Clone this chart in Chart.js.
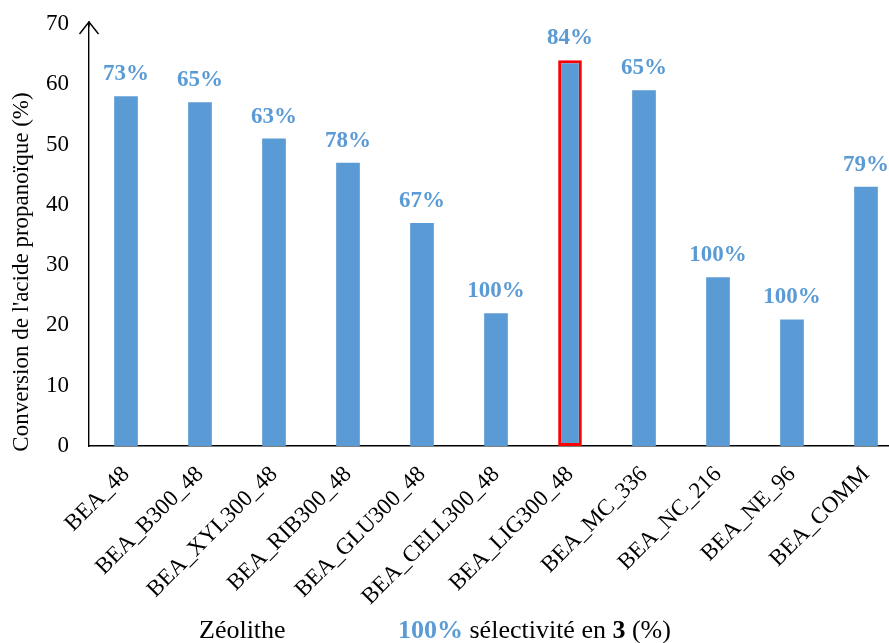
<!DOCTYPE html>
<html><head><meta charset="utf-8">
<script src="https://cdn.jsdelivr.net/npm/chart.js@4.4.1/dist/chart.umd.min.js"></script>
<style>html,body{margin:0;padding:0;background:#fff;overflow:hidden}#wrap{width:889px;height:643px;position:relative;overflow:hidden}</style>
</head><body><div id="wrap"><canvas id="c" width="903" height="643"></canvas></div>
<script>
const categories = ["BEA_48","BEA_B300_48","BEA_XYL300_48","BEA_RIB300_48","BEA_GLU300_48","BEA_CELL300_48","BEA_LIG300_48","BEA_MC_336","BEA_NC_216","BEA_NE_96","BEA_COMM"];
const conversion = [58,57,51,47,37,22,64,59,28,21,43];
const selectivity = ["73%","65%","63%","78%","67%","100%","84%","65%","100%","100%","79%"];
const highlighted = "BEA_LIG300_48";
const yTicks = [0,10,20,30,40,50,60,70];
const yTitle = "Conversion de l'acide propanoïque (%)";

const serif = "'Liberation Serif','Times New Roman',serif";
const blue = "#5B9BD5";

const extras = {
  id: 'extras',
  afterDatasetsDraw(chart) {
    const ctx = chart.ctx;
    const meta = chart.getDatasetMeta(0);
    ctx.save();
    ctx.fillStyle = blue;
    ctx.font = "bold 23px " + serif;
    ctx.textAlign = "center";
    ctx.textBaseline = "alphabetic";
    meta.data.forEach((bar, i) => {
      ctx.fillText(selectivity[i], bar.x, bar.y - 16);
    });
    // arrow on y axis
    const ys = chart.scales.y, xa = chart.chartArea;
    const x0 = xa.left, top = ys.getPixelForValue(70);
    ctx.strokeStyle = "#000"; ctx.lineWidth = 1.4;
    ctx.beginPath();
    ctx.moveTo(x0, top + 3); ctx.lineTo(x0, top - 3);
    ctx.moveTo(x0 - 9.5, top + 10); ctx.lineTo(x0, top - 2); ctx.lineTo(x0 + 9.5, top + 10);
    ctx.stroke();
    // y title
    ctx.save();
    ctx.translate(22, 272);
    ctx.rotate(-Math.PI / 2);
    ctx.fillStyle = "#000";
    ctx.font = "23px " + serif;
    ctx.textAlign = "center"; ctx.textBaseline = "middle";
    ctx.fillText(yTitle, 0, 0);
    ctx.restore();
    // bottom texts
    ctx.textBaseline = "alphabetic";
    ctx.textAlign = "left";
    ctx.fillStyle = "#000";
    const fs = 26;
    ctx.font = fs + "px " + serif;
    ctx.fillText("Zéolithe", 199, 638);
    let x = 398;
    ctx.fillStyle = blue; ctx.font = "bold " + fs + "px " + serif;
    ctx.fillText("100%", x, 638); x += ctx.measureText("100%").width;
    ctx.fillStyle = "#000"; ctx.font = fs + "px " + serif;
    const t1 = " sélectivité en "; ctx.fillText(t1, x, 638); x += ctx.measureText(t1).width;
    ctx.font = "bold " + fs + "px " + serif; ctx.fillText("3", x, 638); x += ctx.measureText("3").width;
    ctx.font = fs + "px " + serif; ctx.fillText(" (%)", x, 638);
    ctx.restore();
  }
};

new Chart(document.getElementById('c'), {
  type: 'bar',
  data: {
    labels: categories,
    datasets: [{
      data: conversion,
      backgroundColor: blue,
      borderColor: categories.map(c => c === highlighted ? "#FF0000" : blue),
      borderWidth: categories.map(c => c === highlighted ? 3 : 0),
      borderSkipped: false,
      categoryPercentage: 1.0,
      barPercentage: 0.32
    }]
  },
  options: {
    responsive: false,
    animation: false,
    devicePixelRatio: 1,
    layout: { padding: { top: 24, right: 0, bottom: 0, left: 0 } },
    plugins: { legend: { display: false }, tooltip: { enabled: false } },
    scales: {
      x: {
        grid: { display: false, drawTicks: false },
        border: { color: "#000", width: 1.4 },
        ticks: { color: "#000", font: { family: serif, size: 23 }, maxRotation: 45, minRotation: 45, padding: 15, autoSkip: false },
        afterFit(s) { s.height = 197; s.paddingLeft = 0; s.paddingRight = 0; }
      },
      y: {
        min: 0, max: 70,
        afterBuildTicks(s) { s.ticks = yTicks.map(v => ({ value: v })); },
        grid: { display: false, drawTicks: false },
        border: { color: "#000", width: 1.4 },
        ticks: { color: "#000", font: { family: serif, size: 23 }, padding: 20 },
        afterFit(s) { s.width = 89; s.paddingTop = 0; s.paddingBottom = 0; }
      }
    }
  },
  plugins: [extras]
});
</script>
</body></html>
